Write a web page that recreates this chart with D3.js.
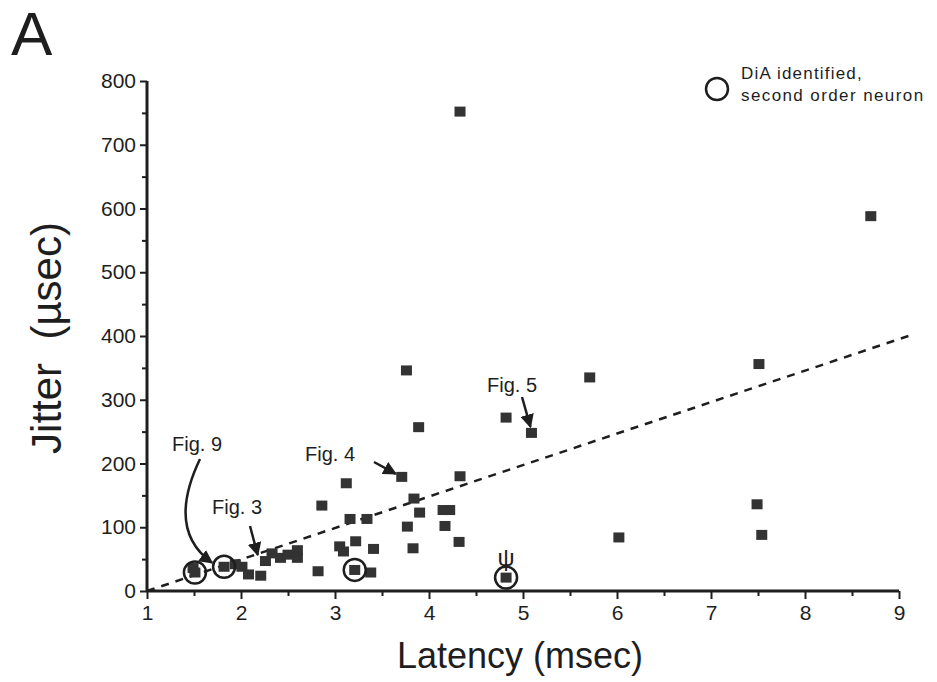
<!DOCTYPE html>
<html>
<head>
<meta charset="utf-8">
<script src="https://cdn.jsdelivr.net/npm/d3@7"></script>
<style>
  body { margin: 0; background: #fff; }
  text { font-family: "Liberation Sans", Arial, sans-serif; fill: #1e1e1e; }
</style>
</head>
<body>
<div id="chart"></div>
<script>
// latency (msec) and jitter (usec) of every neuron
let latency = [1.49, 1.51, 1.82, 1.94, 2.01, 2.08, 2.21, 2.26, 2.33, 2.42, 2.50, 2.60, 2.60,
    2.82, 2.86, 3.05, 3.09, 3.12, 3.16, 3.21, 3.22, 3.34, 3.38, 3.41,
    3.71, 3.76, 3.77, 3.83, 3.84, 3.89, 3.90, 4.15, 4.22, 4.17, 4.32, 4.33, 4.33,
    4.82, 4.82, 5.09, 5.71, 6.02, 7.49, 7.51, 7.54, 8.70]
let jitter = [36, 29, 38, 42, 38, 26, 24, 47, 59, 52, 57, 64, 52,
    31, 134, 70, 62, 169, 113, 33, 78, 113, 29, 66,
    179, 346, 101, 67, 145, 257, 123, 127, 127, 102, 77, 180, 752,
    272, 21, 248, 335, 84, 136, 356, 88, 588]
// DiA identified second order neurons (index into the arrays above)
let identified = [1, 2, 19, 38]

// regression line end points
let fitLatency = [1, 9.1]
let fitJitter = [0, 400]

let xTicks = [1, 2, 3, 4, 5, 6, 7, 8, 9]
let yTicks = [0, 100, 200, 300, 400, 500, 600, 700, 800]

// figure callouts: label, target latency, target jitter
let callouts = [
    {label: "Fig. 9", x: 1.82, y: 38},
    {label: "Fig. 3", x: 2.21, y: 47},
    {label: "Fig. 4", x: 3.71, y: 179},
    {label: "Fig. 5", x: 5.09, y: 248}
]

let points = latency.map((d, i) => ({x: d, y: jitter[i], circled: identified.includes(i)}))

let svg = d3.select("#chart").append("svg")
    .attr("width", 937)
    .attr("height", 682)

let defs = svg.append("defs")
defs.append("marker")
    .attr("id", "arrow")
    .attr("viewBox", "0 0 10 10")
    .attr("refX", 9)
    .attr("refY", 5)
    .attr("markerWidth", 5.5)
    .attr("markerHeight", 5.5)
    .attr("orient", "auto")
    .append("path")
    .attr("d", "M0,0 L10,5 L0,10 z")
    .attr("fill", "#1e1e1e")

let xScale = d3.scaleLinear()
    .domain([1, 9])
    .range([147, 899])

let yScale = d3.scaleLinear()
    .domain([0, 800])
    .range([591, 81])

// Axes
let xAxis = d3.axisBottom(xScale)
    .tickValues(xTicks)
    .tickSize(8)
    .tickPadding(6)
    .tickFormat(d3.format("d"))

let yAxis = d3.axisLeft(yScale)
    .tickValues(yTicks)
    .tickSize(7)
    .tickPadding(4)
    .tickFormat(d3.format("d"))

// minor ticks
svg.append("g")
    .attr("transform", "translate(0," + yScale(0) + ")")
    .call(d3.axisBottom(xScale).tickValues(d3.range(1.5, 9, 1)).tickSize(5).tickFormat(""))
    .call(g => g.select(".domain").remove())
    .selectAll("line").attr("stroke", "#1e1e1e").attr("stroke-width", 2)

svg.append("g")
    .attr("transform", "translate(" + xScale(1) + ",0)")
    .call(d3.axisLeft(yScale).tickValues(d3.range(50, 800, 100)).tickSize(5).tickFormat(""))
    .call(g => g.select(".domain").remove())
    .selectAll("line").attr("stroke", "#1e1e1e").attr("stroke-width", 2)

let gx = svg.append("g")
    .attr("transform", "translate(0," + yScale(0) + ")")
    .call(xAxis)
gx.selectAll("text").style("font-size", "21px").attr("fill", "#1e1e1e")

let gy = svg.append("g")
    .attr("transform", "translate(" + xScale(1) + ",0)")
    .call(yAxis)
gy.selectAll("text").style("font-size", "21px").attr("fill", "#1e1e1e")

svg.selectAll(".domain")
    .attr("stroke", "#1e1e1e")
    .attr("stroke-width", 3)
    .attr("d", null)
gx.select(".domain").attr("d", "M" + xScale(1) + ",0H" + xScale(9))
gy.select(".domain").attr("d", "M0," + yScale(0) + "V" + yScale(800))
svg.selectAll(".tick line").attr("stroke", "#1e1e1e").attr("stroke-width", 2)

// Axis titles
svg.append("text")
    .text("Latency (msec)")
    .attr("x", 520)
    .attr("y", 668)
    .attr("text-anchor", "middle")
    .style("font-size", "36px")

svg.append("text")
    .text("Jitter  (µsec)")
    .attr("transform", "translate(61,338) rotate(-90)")
    .attr("text-anchor", "middle")
    .style("font-size", "42px")
    .style("white-space", "pre")

svg.append("text")
    .text("A")
    .attr("x", 11)
    .attr("y", 55)
    .style("font-size", "62px")

// Dashed regression line
svg.append("line")
    .attr("x1", xScale(fitLatency[0]))
    .attr("y1", yScale(fitJitter[0]))
    .attr("x2", xScale(fitLatency[1]))
    .attr("y2", yScale(fitJitter[1]))
    .attr("stroke", "#1e1e1e")
    .attr("stroke-width", 2.5)
    .attr("stroke-dasharray", "8,7")

// Data squares
svg.append("g")
    .selectAll("rect")
    .data(points)
    .enter()
    .append("rect")
    .attr("x", d => xScale(d.x) - 5.5)
    .attr("y", d => yScale(d.y) - 5)
    .attr("width", 11)
    .attr("height", 10)
    .attr("fill", "#333")

// Identified neurons
svg.append("g")
    .selectAll("circle")
    .data(points.filter(d => d.circled))
    .enter()
    .append("circle")
    .attr("cx", d => xScale(d.x))
    .attr("cy", d => yScale(d.y))
    .attr("r", 11)
    .attr("fill", "none")
    .attr("stroke", "#1e1e1e")
    .attr("stroke-width", 2.5)

// psi mark above the identified neuron at 4.8 msec
let psi = points[identified[3]]
svg.append("text")
    .text("ψ")
    .attr("x", xScale(psi.x))
    .attr("y", yScale(psi.y) - 12)
    .attr("text-anchor", "middle")
    .style("font-size", "24px")

// Figure callouts
let calloutText = [[172, 451], [212, 514], [305, 461], [487, 392]]
let calloutPath = [
    (sx, sy) => "M200,459 Q166,530 " + (sx - 12) + "," + (sy - 4),
    (sx, sy) => "M250,526 L" + (sx - 3) + "," + (sy - 6),
    (sx, sy) => "M374,462 L" + (sx - 6) + "," + (sy - 3),
    (sx, sy) => "M522,397 L" + (sx - 1) + "," + (sy - 6)
]

callouts.forEach((c, i) => {
    svg.append("text")
        .text(c.label)
        .attr("x", calloutText[i][0])
        .attr("y", calloutText[i][1])
        .style("font-size", "20px")

    svg.append("path")
        .attr("d", calloutPath[i](xScale(c.x), yScale(c.y)))
        .attr("fill", "none")
        .attr("stroke", "#1e1e1e")
        .attr("stroke-width", 2.5)
        .attr("marker-end", "url(#arrow)")
})

// Legend
let legend = svg.append("g").attr("id", "legend")
legend.append("circle")
    .attr("cx", 717)
    .attr("cy", 89)
    .attr("r", 11)
    .attr("fill", "none")
    .attr("stroke", "#1e1e1e")
    .attr("stroke-width", 2.5)
legend.append("text")
    .text("DiA identified,")
    .attr("x", 741)
    .attr("y", 79)
    .style("font-size", "17px")
    .style("letter-spacing", "1.2px")
legend.append("text")
    .text("second order neuron")
    .attr("x", 741)
    .attr("y", 101)
    .style("font-size", "17px")
    .style("letter-spacing", "1.4px")
</script>
</body>
</html>
